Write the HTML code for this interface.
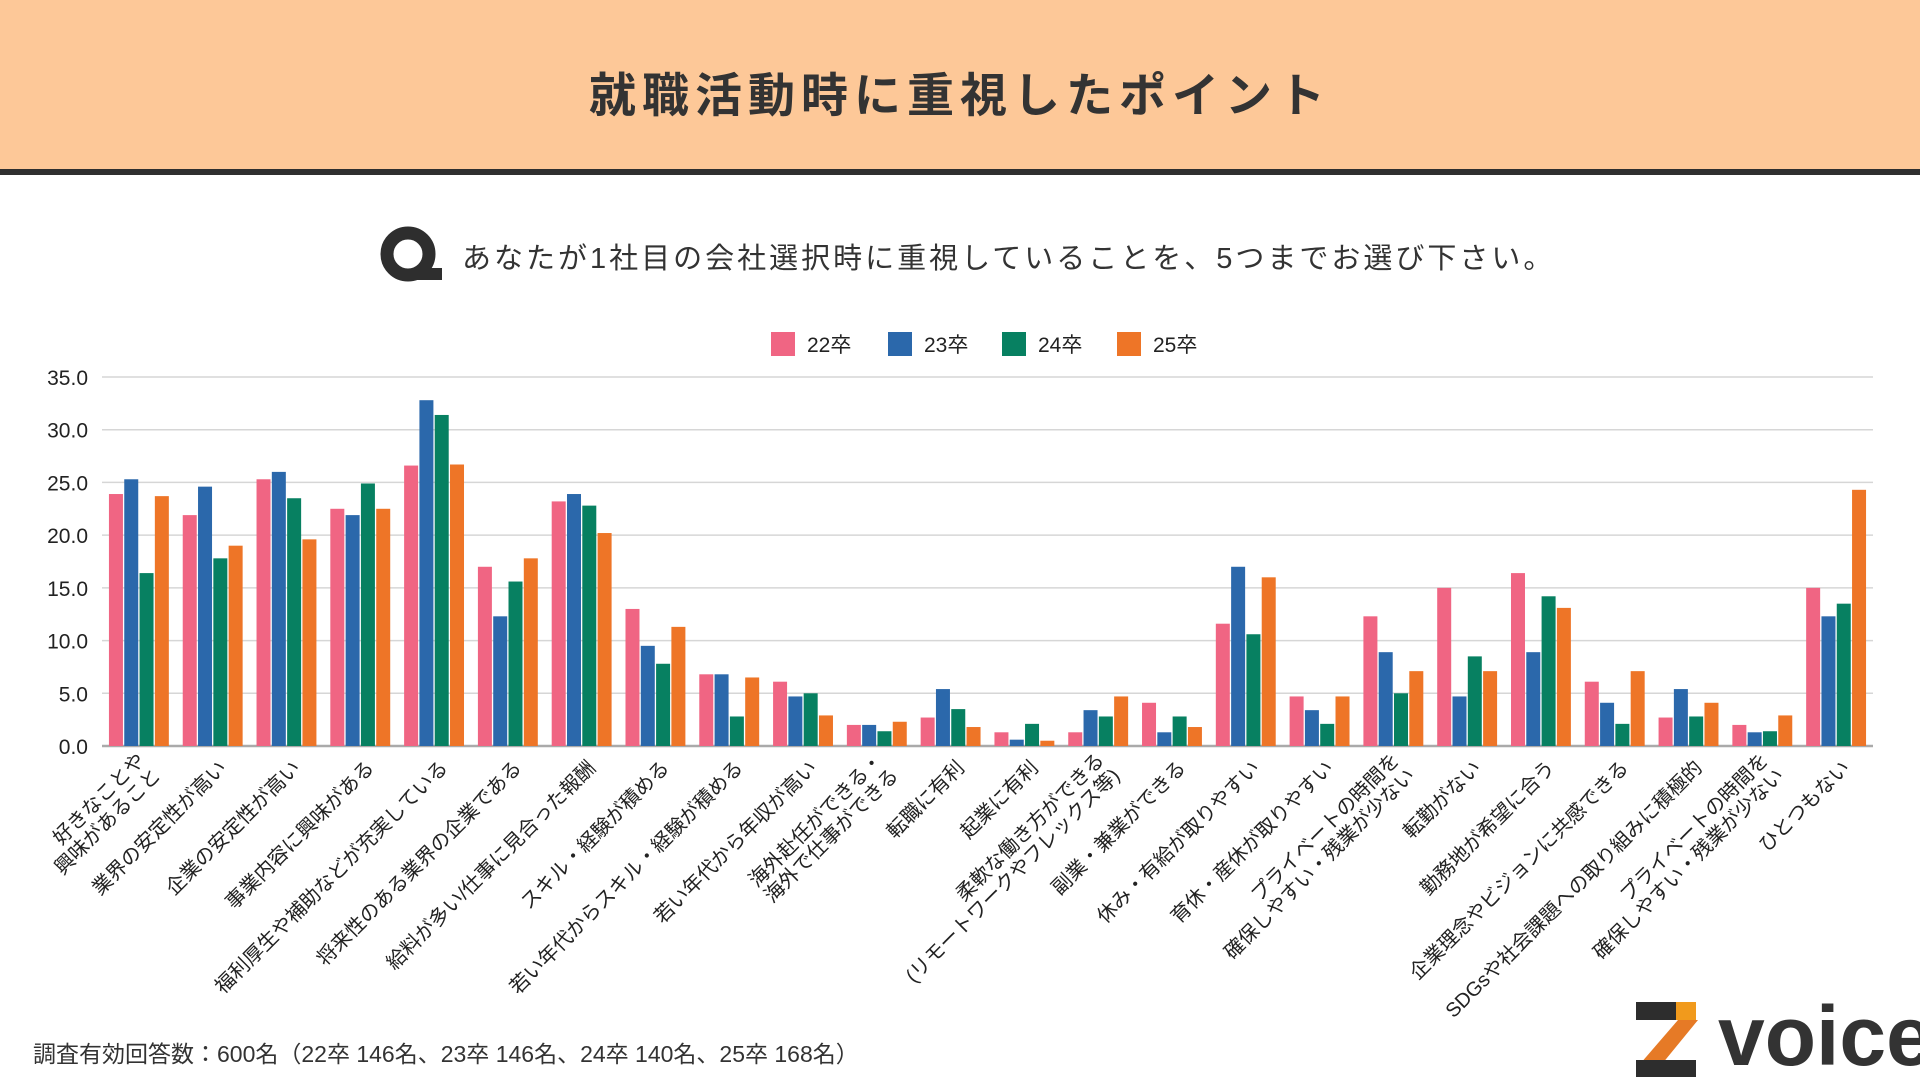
<!DOCTYPE html>
<html><head><meta charset="utf-8"><style>
html,body{margin:0;padding:0;background:#fff;}
body{width:1920px;height:1080px;position:relative;overflow:hidden;font-family:"Liberation Sans","Noto Sans CJK JP",sans-serif;color:#333;}
#hdr{position:absolute;left:0;top:0;width:1920px;height:169px;background:#FDC898;border-bottom:6px solid #2f2f2f;}
#title{position:absolute;left:0;width:1920px;top:57px;text-align:center;font-size:47px;font-weight:bold;letter-spacing:6px;color:#333;}
</style></head><body>
<div id="hdr"><div id="title">就職活動時に重視したポイント</div></div>
<svg id="chart" width="1920" height="1080" style="position:absolute;left:0;top:0"></svg>
<script>
const categories=[["好きなことや","興味があること"],["業界の安定性が高い"],["企業の安定性が高い"],["事業内容に興味がある"],["福利厚生や補助などが充実している"],["将来性のある業界の企業である"],["給料が多い/仕事に見合った報酬"],["スキル・経験が積める"],["若い年代からスキル・経験が積める"],["若い年代から年収が高い"],["海外赴任ができる・","海外で仕事ができる"],["転職に有利"],["起業に有利"],["柔軟な働き方ができる","(リモートワークやフレックス等)"],["副業・兼業ができる"],["休み・有給が取りやすい"],["育休・産休が取りやすい"],["プライベートの時間を","確保しやすい・残業が少ない"],["転勤がない"],["勤務地が希望に合う"],["企業理念やビジョンに共感できる"],["SDGsや社会課題への取り組みに積極的"],["プライベートの時間を","確保しやすい・残業が少ない"],["ひとつもない"]];
const s22=[23.9,21.9,25.3,22.5,26.6,17.0,23.2,13.0,6.8,6.1,2.0,2.7,1.3,1.3,4.1,11.6,4.7,12.3,15.0,16.4,6.1,2.7,2.0,15.0];
const s23=[25.3,24.6,26.0,21.9,32.8,12.3,23.9,9.5,6.8,4.7,2.0,5.4,0.6,3.4,1.3,17.0,3.4,8.9,4.7,8.9,4.1,5.4,1.3,12.3];
const s24=[16.4,17.8,23.5,24.9,31.4,15.6,22.8,7.8,2.8,5.0,1.4,3.5,2.1,2.8,2.8,10.6,2.1,5.0,8.5,14.2,2.1,2.8,1.4,13.5];
const s25=[23.7,19.0,19.6,22.5,26.7,17.8,20.2,11.3,6.5,2.9,2.3,1.8,0.5,4.7,1.8,16.0,4.7,7.1,7.1,13.1,7.1,4.1,2.9,24.3];
const seriesNames=["22卒","23卒","24卒","25卒"];
const yTicks=[0,5,10,15,20,25,30,35];
const colors=["#F06583","#2B68AB","#078061","#EE7527"];
const X0=102,X1=1873,Y0=746,Y1=377,YMAX=35;
const svg=document.getElementById('chart');const NS="http://www.w3.org/2000/svg";
function y(v){return Y0-(v/YMAX)*(Y0-Y1);}
const gw=(X1-X0)/categories.length;
function gx(i){return X0+gw*i+gw/2;}
function mk(t,a,txt){const e=document.createElementNS(NS,t);for(const k in a)e.setAttribute(k,a[k]);if(txt!==undefined)e.textContent=txt;svg.appendChild(e);return e;}
const F='"Liberation Sans","Noto Sans CJK JP",sans-serif';
yTicks.forEach(t=>{
 const l=mk('line',{x1:X0,x2:X1,y1:y(t),y2:y(t),stroke:t===0?'#aaa':'#d6d6d6','stroke-width':t===0?2.5:1.5});
 
 
 const tx=mk('text',{x:88,y:y(t)+8,'text-anchor':'end','font-size':21,'font-family':F,fill:'#222'},t.toFixed(1));
 
 
});
const all=[s22,s23,s24,s25];const bw=14,bg=1.3;
categories.forEach((c,i)=>{
 const cx=gx(i);const start=cx-(4*bw+3*bg)/2;
 all.forEach((s,k)=>{
  const r=mk('rect',{x:start+k*(bw+bg),y:y(s[i]),width:bw,height:Y0-y(s[i]),fill:colors[k]});
  
  
 });
 const ax=cx+10,ay=764;
 const t=mk('text',{transform:`translate(${ax},${ay}) rotate(-45)`,'text-anchor':'end','font-size':20,'font-family':F,fill:'#222'});
 
 
 c.forEach((ln,j)=>{const ts=document.createElementNS(NS,'tspan');ts.setAttribute('x',0);ts.setAttribute('y',(j-(c.length-1)/2)*22+7);ts.textContent=ln;t.appendChild(ts);});
});
const lx=[771,888,1002,1117];
seriesNames.forEach((n,k)=>{
 const r=mk('rect',{x:lx[k],y:332,width:24,height:24,fill:colors[k]});
 
 
 const t=mk('text',{x:lx[k]+36,y:352,'font-size':21,'font-family':F,fill:'#222'},n);
 
 
});
</script>
<svg width="70" height="70" style="position:absolute;left:376px;top:222px">
<circle cx="32" cy="32" r="21" fill="none" stroke="#2e2e2e" stroke-width="13"/><rect x="36" y="46" width="30" height="12" fill="#2e2e2e"/></svg>
<div style="position:absolute;left:462px;top:235px;font-size:29px;letter-spacing:3px;color:#333;white-space:nowrap;">あなたが1社目の会社選択時に重視していることを、5つまでお選び下さい。</div>
<div style="position:absolute;left:33px;top:1035px;font-size:23px;color:#333;white-space:nowrap;">調査有効回答数：600名（22卒 146名、23卒 146名、24卒 140名、25卒 168名）</div>
<div style="position:absolute;left:1636px;top:998px;width:284px;height:82px;">
<div style="position:absolute;left:0;top:4px;width:40px;height:18px;background:#2d2d2d"></div>
<div style="position:absolute;left:40px;top:4px;width:20px;height:18px;background:#F19A1C"></div>
<svg width="62" height="78" style="position:absolute;left:0;top:4px"><polygon points="42,18 62,18 26,62 4,62" fill="#E67A26"/></svg>
<div style="position:absolute;left:0;top:62px;width:60px;height:17px;background:#2d2d2d"></div>
<div style="position:absolute;left:82px;top:-4px;font-size:84px;font-weight:bold;color:#333;line-height:84px;">voice</div>
</div>
</body></html>
